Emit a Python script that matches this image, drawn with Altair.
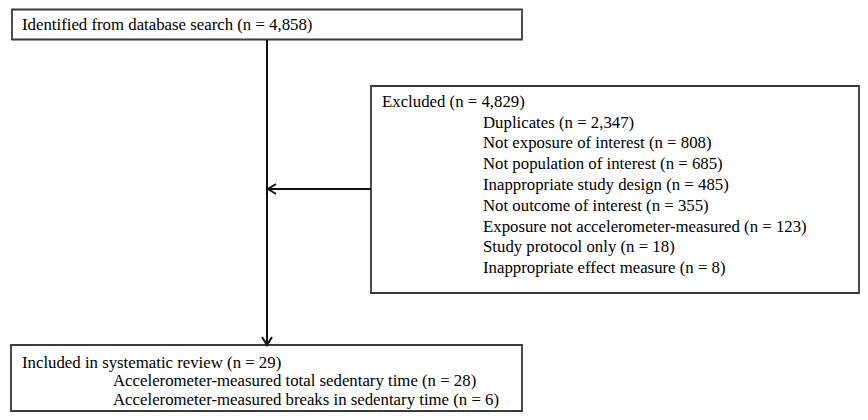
import altair as alt
import pandas as pd

# Flowchart content
top_label = ["Identified from database search (n = 4,858)"]
excluded_head = ["Excluded (n = 4,829)"]
excluded_items = [
    "Duplicates (n = 2,347)",
    "Not exposure of interest (n = 808)",
    "Not population of interest (n = 685)",
    "Inappropriate study design (n = 485)",
    "Not outcome of interest (n = 355)",
    "Exposure not accelerometer-measured (n = 123)",
    "Study protocol only (n = 18)",
    "Inappropriate effect measure (n = 8)",
]
included_head = ["Included in systematic review (n = 29)"]
included_items = [
    "Accelerometer-measured total sedentary time (n = 28)",
    "Accelerometer-measured breaks in sedentary time (n = 6)",
]

# layout (reference pixel coordinates)
box_x = [12, 371, 11]
box_x2 = [522, 859, 522]
box_y = [9.5, 86, 345]
box_y2 = [39.5, 293, 411]

texts, tx, ty = [], [], []
texts += top_label; tx += [22]; ty += [25]
texts += excluded_head; tx += [382]; ty += [101.7]
for i, t in enumerate(excluded_items):
    texts.append(t); tx.append(483); ty.append(122.5 + 20.8 * i)
texts += included_head; tx += [22]; ty += [362.5]
for i, t in enumerate(included_items):
    texts.append(t); tx.append(113); ty.append(381 + 19.2 * i)

boxes = pd.DataFrame({"x": box_x, "x2": box_x2, "y": box_y, "y2": box_y2})
labels = pd.DataFrame({"t": texts, "x": tx, "y": ty})
lines = pd.DataFrame({"x": [267, 268], "x2": [267, 371], "y": [40, 189], "y2": [344, 189]})
heads = pd.DataFrame({"x": [267, 268], "y": [345, 189], "dir": ["down", "left"]})

xs = alt.Scale(domain=[8, 860], range=[0, 852], nice=False, zero=False)
ys = alt.Scale(domain=[8, 412], range=[0, 404], nice=False, zero=False)
X = lambda f: alt.X(f, scale=xs, axis=None)
Y = lambda f: alt.Y(f, scale=ys, axis=None)

rects = alt.Chart(boxes).mark_rect(fill="white", stroke="#3a3a3a", strokeWidth=1.8).encode(
    x=X("x:Q"), x2="x2:Q", y=Y("y:Q"), y2="y2:Q"
)
rules = alt.Chart(lines).mark_rule(color="#111111", strokeWidth=2).encode(
    x=X("x:Q"), x2="x2:Q", y=Y("y:Q"), y2="y2:Q"
)
down = alt.Chart(heads[heads.dir == "down"]).mark_point(
    shape="M-1,-1.6L0,0L1,-1.6", filled=False, stroke="#111111", strokeWidth=2, size=100, opacity=1
).encode(x=X("x:Q"), y=Y("y:Q"))
left = alt.Chart(heads[heads.dir == "left"]).mark_point(
    shape="M1.6,-1L0,0L1.6,1", filled=False, stroke="#111111", strokeWidth=2, size=100, opacity=1
).encode(x=X("x:Q"), y=Y("y:Q"))
txt = alt.Chart(labels).mark_text(
    align="left", baseline="middle", font="Liberation Serif", fontSize=16.8, color="#000000"
).encode(x=X("x:Q"), y=Y("y:Q"), text="t:N")

chart = alt.layer(rects, rules, down, left, txt).properties(
    width=852, height=404, padding=0
).configure_view(stroke=None)

chart.save("out.html", embed_options={"renderer": "svg", "actions": False})
